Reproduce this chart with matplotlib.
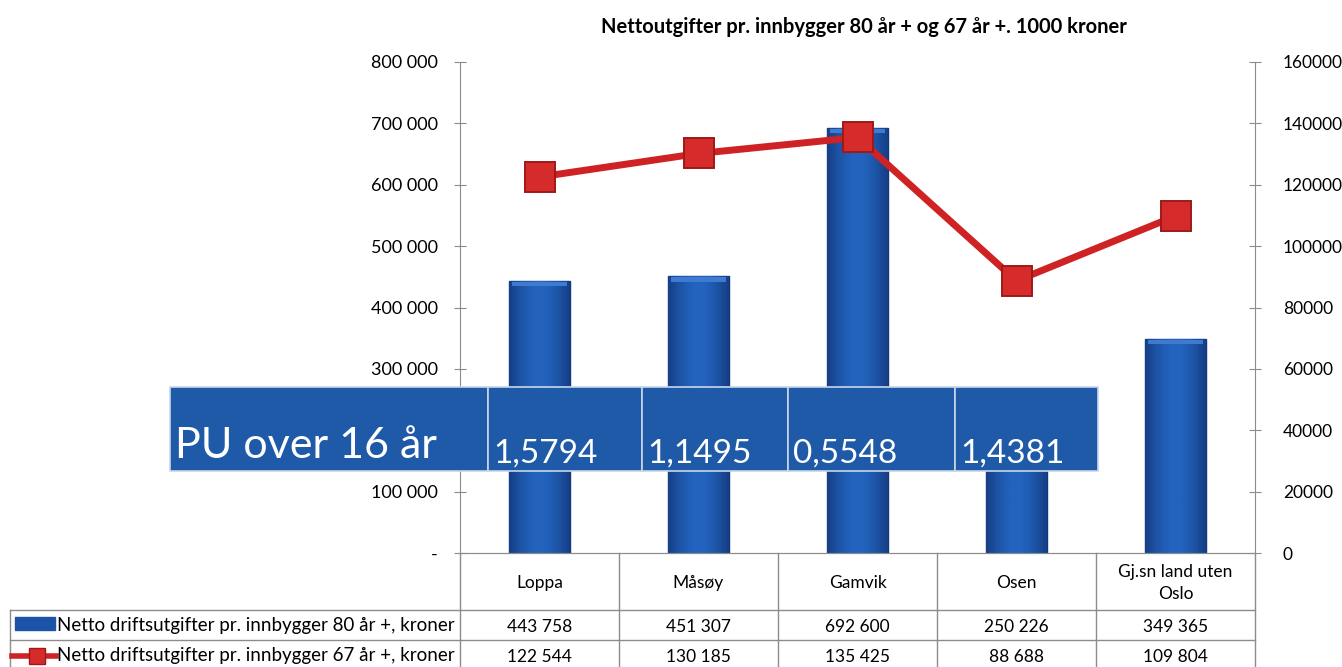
import numpy as np
import matplotlib.pyplot as plt
from matplotlib.patches import Rectangle
from matplotlib.lines import Line2D
from matplotlib.colors import LinearSegmentedColormap

# categories and series
kommuner = ["Loppa", "Måsøy", "Gamvik", "Osen", "Gj.sn land uten\nOslo"]
utg_80 = [443758, 451307, 692600, 250226, 349365]   # left axis, bars
utg_67 = [122544, 130185, 135425, 88688, 109804]    # right axis, line
pu_label = "PU over 16 år"
pu_values = ["1,5794", "1,1495", "0,5548", "1,4381"]
serie_80 = "Netto driftsutgifter pr. innbygger 80 år +, kroner"
serie_67 = "Netto driftsutgifter pr. innbygger 67 år +, kroner"
tittel = "Nettoutgifter pr. innbygger 80 år + og 67 år +. 1000 kroner"

left_ticks = [0, 100000, 200000, 300000, 400000, 500000, 600000, 700000, 800000]
right_ticks = [0, 20000, 40000, 60000, 80000, 100000, 120000, 140000, 160000]

FONT = ["Lato", "DejaVu Sans"]
plt.rcParams["font.family"] = FONT

W, H = 1342, 667
fig = plt.figure(figsize=(W / 100, H / 100), dpi=100)
fig.patch.set_facecolor("white")

# axes box in pixels
x0, x1, yb, yt = 460, 1255, 553, 62
ax = fig.add_axes([x0 / W, (H - yb) / H, (x1 - x0) / W, (yb - yt) / H])
ax2 = ax.twinx()

bar_blue = "#1c52a8"
line_red = "#cf2224"
grey = "#8c8c8c"
bar_cmap = LinearSegmentedColormap.from_list(
    "bevel", ["#163f86", "#1d55a8", "#2363bd", "#2363bd", "#1d55a8", "#163f86"])

x = np.arange(len(kommuner))
bars = ax.bar(x, utg_80, width=0.38, color=bar_blue, edgecolor="#12377a", linewidth=1.0, zorder=2)
grad = np.linspace(0, 1, 64).reshape(1, -1)
for b in bars:
    im = ax.imshow(grad, cmap=bar_cmap, aspect="auto", zorder=2.1,
                   extent=[b.get_x(), b.get_x() + b.get_width(), 0, b.get_height()])
    im.set_clip_path(b)
    # light top bevel
    ax.add_patch(Rectangle((b.get_x() + 0.02, b.get_height() - 9000), b.get_width() - 0.04, 7000,
                           facecolor="#3d7ad0", edgecolor="none", zorder=2.2))
ax.set_xlim(-0.5, len(kommuner) - 0.5)
ax.set_ylim(0, 800000)
ax.set_yticks(left_ticks)
ax.set_yticklabels(["-"] + [f"{v:,}".replace(",", " ") for v in left_ticks[1:]], fontsize=13)
ax.get_yticklabels()[2].set_visible(False)  # hidden behind the PU box
ax.set_xticks([])

ax2.plot(x, utg_67, color=line_red, lw=5, marker="s", markersize=21,
         markerfacecolor="#d62b2b", markeredgecolor="#a01818", markeredgewidth=1.4, zorder=3)
ax2.set_ylim(0, 160000)
ax2.set_yticks(right_ticks)
ax2.set_yticklabels([str(v) for v in right_ticks], fontsize=12.5)

for a in (ax, ax2):
    a.spines["top"].set_visible(False)
    a.spines["left"].set_color(grey)
    a.spines["right"].set_color(grey)
    a.spines["bottom"].set_color(grey)
ax.tick_params(axis="y", direction="inout", length=8, color=grey, pad=12)
ax2.tick_params(axis="y", direction="inout", length=8, color=grey, pad=16)
ax.spines["right"].set_visible(False)
ax2.spines["left"].set_visible(False)

# title
fig.text(864 / W, 1 - 27 / H, tittel, ha="center", va="center", fontsize=14.5,
         fontweight="bold")

# data table below the axes, in axes coordinates
def ay(py):
    return (yb - py) / (yb - yt)

def axx(px):
    return (px - x0) / (x1 - x0)

tr = ax.transAxes
rows_y = [ay(610), ay(640), ay(667)]
for yy in rows_y[:2]:
    ax.add_line(Line2D([axx(10), 1], [yy, yy], transform=tr, color=grey, lw=1, clip_on=False))
for i in range(len(kommuner) + 1):
    xx = i / len(kommuner)
    ax.add_line(Line2D([xx, xx], [0, rows_y[2]], transform=tr, color=grey, lw=1, clip_on=False))
ax.add_line(Line2D([axx(10), axx(10)], [rows_y[0], rows_y[2]], transform=tr, color=grey, lw=1, clip_on=False))

for i, k in enumerate(kommuner):
    cx = (i + 0.5) / len(kommuner)
    ax.text(cx, ay(583), k, transform=tr, ha="center", va="center", fontsize=12.5,
            linespacing=1.45, clip_on=False)
    ax.text(cx, ay(627), f"{utg_80[i]:,}".replace(",", " "), transform=tr, ha="center",
            va="center", fontsize=12.5, clip_on=False)
    ax.text(cx, ay(657), f"{utg_67[i]:,}".replace(",", " "), transform=tr, ha="center",
            va="center", fontsize=12.5, clip_on=False)

# row labels with legend keys
ax.add_patch(Rectangle((axx(15), ay(630)), axx(55) - axx(15), ay(617) - ay(630), transform=tr,
                       color=bar_blue, clip_on=False))
ax.add_line(Line2D([axx(12), axx(56)], [ay(656), ay(656)], transform=tr, color=line_red, lw=4,
                   clip_on=False))
ax.add_line(Line2D([axx(37)], [ay(656)], transform=tr, marker="s", markersize=11, color="#d62b2b",
                   markeredgecolor="#a01818", clip_on=False))
ax.text(axx(57), ay(625), serie_80, transform=tr, ha="left", va="center", fontsize=13.5,
        clip_on=False)
ax.text(axx(57), ay(655), serie_67, transform=tr, ha="left", va="center", fontsize=13.5,
        clip_on=False)

# overlay box "PU over 16 år"
box_blue = "#1f5aa8"
edges = [170, 488, 642, 788, 955, 1098]
by0, by1 = 387, 471
for i in range(len(edges) - 1):
    fig.patches.append(Rectangle((edges[i] / W, 1 - by1 / H), (edges[i + 1] - edges[i]) / W,
                                 (by1 - by0) / H, transform=fig.transFigure,
                                 facecolor=box_blue, edgecolor="#c9d6ea", lw=1.2, zorder=10))
fig.text(175 / W, 1 - 446 / H, pu_label, ha="left", va="center", fontsize=31,
         color="white", zorder=11)
for i, v in enumerate(pu_values):
    fig.text((edges[i + 1] + 5) / W, 1 - 454 / H, v, ha="left", va="center", fontsize=24,
             color="white", zorder=11)

fig.savefig("out.png", dpi=100)
